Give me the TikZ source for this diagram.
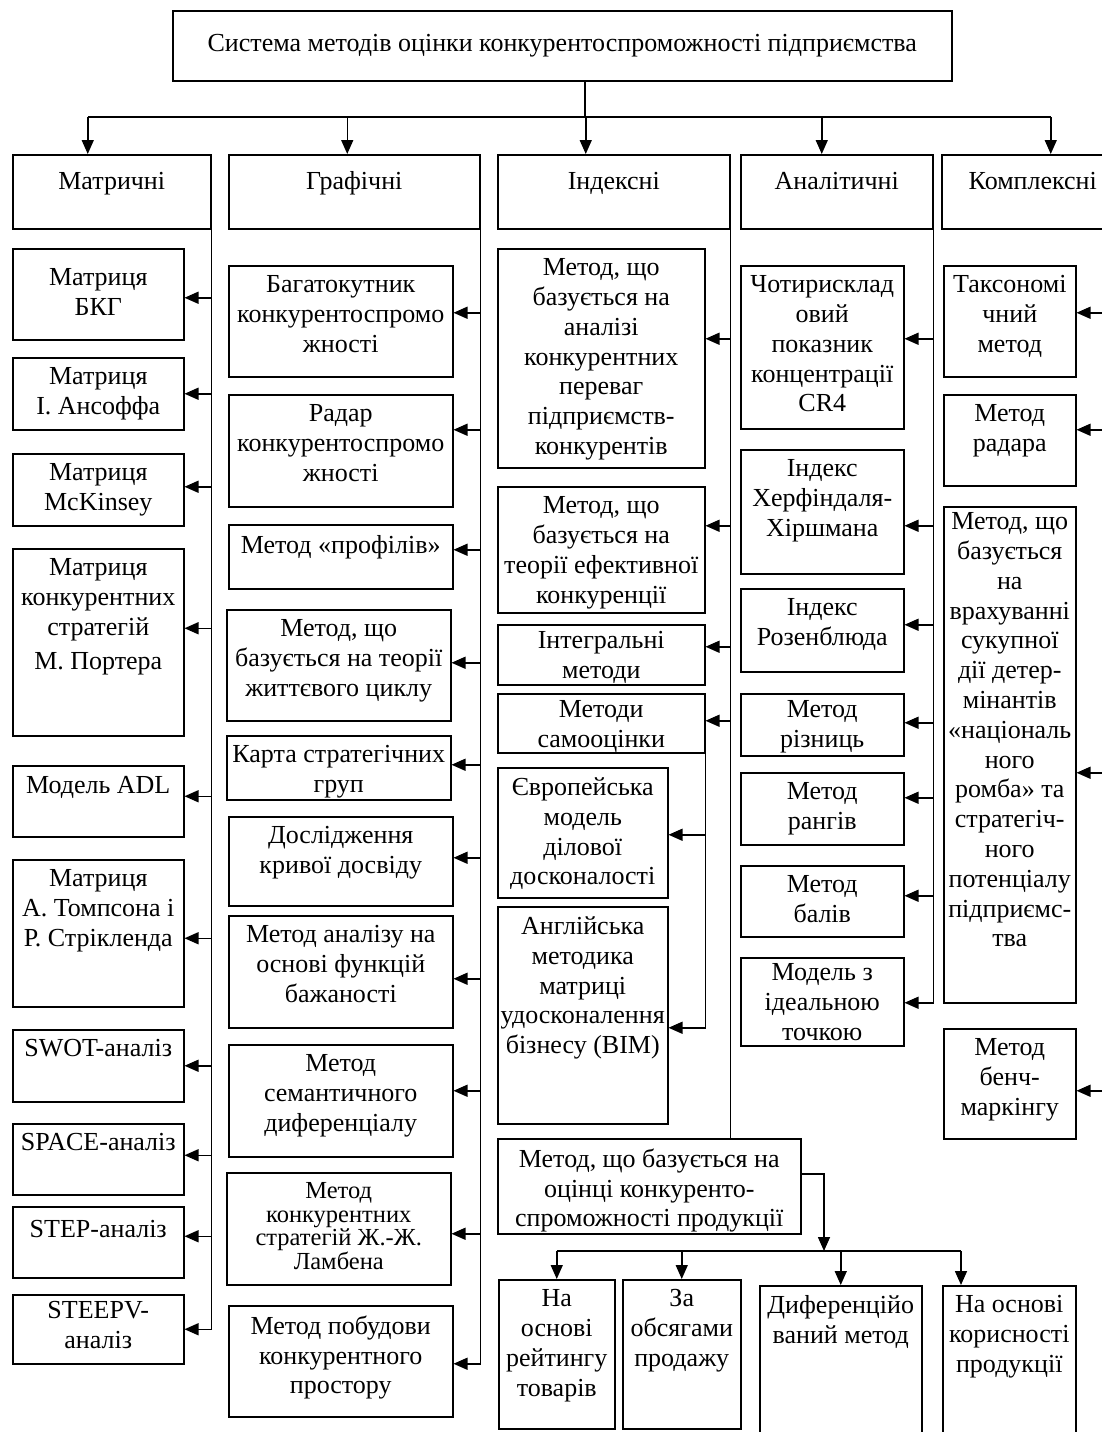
\documentclass[tikz,border=0pt]{standalone}
\usepackage{fontspec}
\setmainfont{Liberation Serif}
\usetikzlibrary{arrows.meta}

\begin{document}
\begin{tikzpicture}[
	x=1pt,
	y=-1pt,
	line width=1.5pt,
	font=\fontsize{26}{29.8}\selectfont,
	head/.style={
		shape=rectangle,
		draw,
		anchor=north west,
		minimum height=74pt,
		inner sep=0pt,
		text height=18pt,
		text depth=22pt,
	},
	cell/.style={
		shape=rectangle,
		draw,
		anchor=north west,
		inner sep=0pt,
	},
	mcell/.style={cell, minimum width=171pt},
	gcell/.style={cell, minimum width=224pt},
	icell/.style={cell, minimum width=207pt},
	acell/.style={cell, minimum width=163pt},
	kcell/.style={cell, minimum width=132pt},
	txt/.style={
		anchor=north,
		align=center,
		inner sep=5pt,
		yshift=-5pt,
		execute at begin node=\strut,
	},
	small/.style={font=\fontsize{24.5}{23.5}\selectfont},
	arr/.style={-{Triangle[length=14pt,width=12pt]}},
]
\useasboundingbox (0,0) rectangle (1102,1432);

% top box and the five groups
\node (sys) [head, minimum width=779pt, minimum height=70pt, text height=18pt, text depth=6pt] at (172,10) {Система методів оцінки конкурентоспроможності підприємства};
\node (mat) [head, minimum width=198pt] at (12,154) {Матричні};
\node (gra) [head, minimum width=251pt] at (228,154) {Графічні};
\node (ind) [head, minimum width=232pt] at (497,154) {Індексні};
\node (ana) [head, minimum width=192pt] at (740,154) {Аналітичні};
\node (kom) [head, minimum width=182pt] at (941,154) {Комплексні};

% matrix methods
\node (m1) [mcell, minimum height=91pt, label={[txt, yshift=-10pt]north:{Матриця\\БКГ}}] at (12,248) {};
\node (m2) [mcell, minimum height=72pt, label={[txt]north:{Матриця\\І. Ансоффа}}] at (12,357) {};
\node (m3) [mcell, minimum height=72pt, label={[txt]north:{Матриця\\McKinsey}}] at (12,453) {};
\node (m4) [mcell, minimum height=187pt, label={[txt]north:{Матриця\\конкурентних\\стратегій\\[4pt]М. Портера}}] at (12,548) {};
\node (m5) [mcell, minimum height=71pt, label={[txt, yshift=3pt]north:{Модель ADL}}] at (12,765) {};
\node (m6) [mcell, minimum height=147pt, label={[txt]north:{Матриця\\А. Томпсона і\\Р. Стрікленда}}] at (12,859) {};
\node (m7) [mcell, minimum height=72pt, label={[txt, yshift=4pt]north:{SWOT-аналіз}}] at (12,1029) {};
\node (m8) [mcell, minimum height=71pt, label={[txt, yshift=4pt]north:{SPACE-аналіз}}] at (12,1123) {};
\node (m9) [mcell, minimum height=71pt, label={[txt]north:{STEP-аналіз}}] at (12,1206) {};
\node (m10) [mcell, minimum height=69pt, label={[txt, yshift=3pt]north:{STEEPV-\\аналіз}}] at (12,1294) {};

% graphic methods
\node (g1) [gcell, minimum height=111pt, label={[txt]north:{Багатокутник\\конкурентоспромо\\жності}}] at (228,265) {};
\node (g2) [gcell, minimum height=112pt, label={[txt]north:{Радар\\конкурентоспромо\\жності}}] at (228,394) {};
\node (g3) [gcell, minimum height=64pt, label={[txt, yshift=2pt]north:{Метод «профілів»}}] at (228,524) {};
\node (g4) [gcell, minimum height=111pt, label={[txt]north:{Метод, що\\базується на теорії\\життєвого циклу}}] at (226,609) {};
\node (g5) [gcell, minimum height=64pt, label={[txt]north:{Карта стратегічних\\груп}}] at (226,735) {};
\node (g6) [gcell, minimum height=89pt, label={[txt]north:{Дослідження\\кривої досвіду}}] at (228,816) {};
\node (g7) [gcell, minimum height=112pt, label={[txt]north:{Метод аналізу на\\основі функцій\\бажаності}}] at (228,915) {};
\node (g8) [gcell, minimum height=112pt, label={[txt]north:{Метод\\семантичного\\диференціалу}}] at (228,1044) {};
\node (g9) [gcell, minimum height=112pt, label={[txt,small]north:{Метод\\конкурентних\\стратегій Ж.-Ж.\\Ламбена}}] at (226,1172) {};
\node (g10) [gcell, minimum height=111pt, label={[txt]north:{Метод побудови\\конкурентного\\простору}}] at (228,1305) {};

% index methods
\node (i1) [icell, minimum height=219pt, label={[txt]north:{Метод, що\\базується на\\аналізі\\конкурентних\\переваг\\підприємств-\\конкурентів}}] at (497,248) {};
\node (i2) [icell, minimum height=126pt, label={[txt]north:{Метод, що\\базується на\\теорії ефективної\\конкуренції}}] at (497,486) {};
\node (i3) [icell, minimum height=60pt, label={[txt, yshift=3pt]north:{Інтегральні\\методи}}] at (497,624) {};
\node (i4) [icell, minimum height=59pt, label={[txt, yshift=3pt]north:{Методи\\самооцінки}}] at (497,693) {};
\node (i5) [cell, minimum width=170pt, minimum height=130pt, label={[txt]north:{Європейська\\модель\\ділової\\досконалості}}] at (497,767) {};
\node (i6) [cell, minimum width=170pt, minimum height=217pt, label={[txt]north:{Англійська\\методика\\матриці\\удосконалення\\бізнесу (BIM)}}] at (497,906) {};
\node (prod) [cell, minimum width=303pt, minimum height=95pt, label={[txt]north:{Метод, що базується на\\оцінці конкуренто-\\спроможності продукції}}] at (497,1138) {};
\node (b1) [cell, minimum width=116pt, minimum height=149pt, label={[txt]north:{На\\основі\\рейтингу\\товарів}}] at (498,1279) {};
\node (b2) [cell, minimum width=118pt, minimum height=149pt, label={[txt]north:{За\\обсягами\\продажу}}] at (622,1279) {};
\node (b3) [cell, minimum width=162pt, minimum height=170pt, label={[txt]north:{Диференційо\\ваний метод}}] at (759,1285) {};
\node (b4) [cell, minimum width=133pt, minimum height=170pt, label={[txt]north:{На основі\\корисності\\продукції}}] at (942,1285) {};

% analytic methods
\node (a1) [acell, minimum height=163pt, label={[txt]north:{Чотирисклад\\овий\\показник\\концентрації\\CR4}}] at (740,265) {};
\node (a2) [acell, minimum height=124pt, label={[txt]north:{Індекс\\Херфіндаля-\\Хіршмана}}] at (740,449) {};
\node (a3) [acell, minimum height=83pt, label={[txt]north:{Індекс\\Розенблюда}}] at (740,588) {};
\node (a4) [acell, minimum height=62pt, label={[txt, yshift=3pt]north:{Метод\\різниць}}] at (740,693) {};
\node (a5) [acell, minimum height=72pt, label={[txt]north:{Метод\\рангів}}] at (740,772) {};
\node (a6) [acell, minimum height=71pt, label={[txt]north:{Метод\\балів}}] at (740,865) {};
\node (a7) [acell, minimum height=88pt, label={[txt, yshift=4pt]north:{Модель з\\ідеальною\\точкою}}] at (740,957) {};

% complex methods
\node (k1) [kcell, minimum height=111pt, label={[txt]north:{Таксономі\\чний\\метод}}] at (943,265) {};
\node (k2) [kcell, minimum height=91pt, label={[txt]north:{Метод\\радара}}] at (943,394) {};
\node (k3) [kcell, minimum height=496pt, label={[txt, yshift=4pt]north:{Метод, що\\базується\\на\\врахуванні\\сукупної\\дії детер-\\мінантів\\«національ\\ного\\ромба» та\\стратегіч-\\ного\\потенціалу\\підприємс-\\тва}}] at (943,506) {};
\node (k4) [kcell, minimum height=110pt, label={[txt]north:{Метод\\бенч-\\маркінгу}}] at (943,1028) {};

% top level arrows
\coordinate (hub) at (585,117);
\draw (sys.south -| hub) -- (hub);
\draw ([xshift=-24pt]mat.north |- hub) -- ([xshift=18pt]kom.north |- hub);
\foreach \n/\dx in {mat/-24, gra/-7, ind/-28, ana/-15, kom/18}
	\draw[arr] ([xshift=\dx pt]\n.north |- hub) -- ([xshift=\dx pt]\n.north);

% buses
\draw (mat.south east) -- (mat.south east |- m10.east);
\foreach \n/\dy in {1/-3.5, 2/0, 3/3, 4/14, 5/5, 6/-5, 7/0, 8/4, 9/6, 10/0}
	\draw[arr] ([yshift=\dy pt]mat.south east |- m\n.east) -- ([yshift=\dy pt]m\n.east);

\draw (gra.south east) -- ([yshift=-2.5pt]gra.south east |- g10.east);
\foreach \n/\dy in {1/8.5, 2/21, 3/7, 4/2.5, 5/3, 6/3.5, 7/-7, 8/10, 9/-5, 10/-2.5}
	\draw[arr] ([yshift=\dy pt]gra.south east |- g\n.east) -- ([yshift=\dy pt]g\n.east);

\draw (ind.south east) -- (ind.south east |- prod.north);
\foreach \n/\dy in {1/19.5, 2/24, 3/8, 4/2.5}
	\draw[arr] ([yshift=\dy pt]ind.south east |- i\n.east) -- ([yshift=\dy pt]i\n.east);
\draw (i4.south east) -- ([yshift=-12.5pt]i4.south east |- i6.east);
\foreach \n/\dy in {5/-2, 6/-12.5}
	\draw[arr] ([yshift=\dy pt]i4.south east |- i\n.east) -- ([yshift=\dy pt]i\n.east);

\draw (ana.south east) -- ([yshift=-1pt]ana.south east |- a7.east);
\foreach \n/\dy in {1/8.5, 2/-14, 3/5.5, 4/2, 5/11, 6/5.5, 7/-1}
	\draw[arr] ([yshift=\dy pt]ana.south east |- a\n.east) -- ([yshift=\dy pt]a\n.east);

\draw (kom.south east) -- ([yshift=-7pt]kom.south east |- k4.east);
\foreach \n/\dy in {1/8.5, 2/10.5, 3/-18, 4/-7}
	\draw[arr] ([yshift=\dy pt]kom.south east |- k\n.east) -- ([yshift=\dy pt]k\n.east);

% product assessment branch
\coordinate (split) at (824,1251);
\draw[arr] ([yshift=12.5pt]prod.east) -| (split);
\draw (b1.north |- split) -- ([xshift=19pt]b4.north west |- split);
\foreach \n in {b1, b2, b3}
	\draw[arr] (\n.north |- split) -- (\n.north);
\draw[arr] ([xshift=19pt]b4.north west |- split) -- ([xshift=19pt]b4.north west);
\end{tikzpicture}
\end{document}
